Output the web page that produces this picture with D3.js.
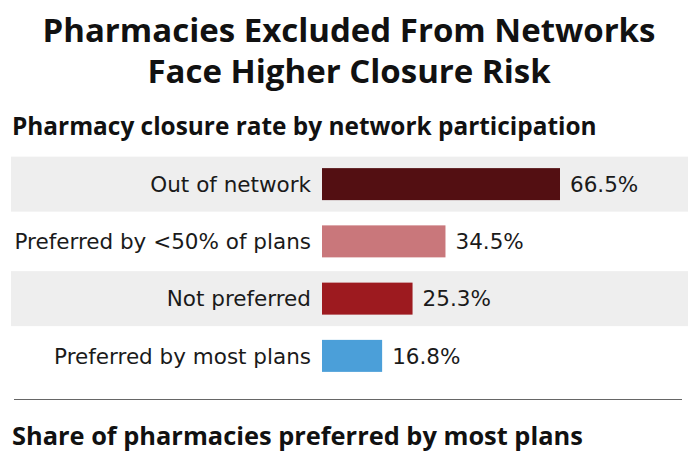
<!DOCTYPE html>
<html>
<head>
<meta charset="utf-8">
<script src="https://cdn.jsdelivr.net/npm/d3@7"></script>
<style>
  body { margin: 0; background: #fff; }
  svg { display: block; }
</style>
</head>
<body>
<svg id="chart" width="696" height="461"></svg>
<script>
// chart data
var categories = ["Out of network", "Preferred by <50% of plans", "Not preferred", "Preferred by most plans"];
var closureRates = [66.5, 34.5, 25.3, 16.8];
var barColors = ["#530f12", "#c9777b", "#9d1a1f", "#4b9fd9"];
var titleLines = ["Pharmacies Excluded From Networks", "Face Higher Closure Risk"];
var subtitle = "Pharmacy closure rate by network participation";
var nextSubtitle = "Share of pharmacies preferred by most plans";

var svg = d3.select("#chart");
var W = 696;
var labelFont = "'DejaVu Sans', sans-serif";

// two-line title
var title = svg.append("text")
    .attr("y", 41.5)
    .attr("text-anchor", "middle")
    .style("font-family", "'Open Sans', sans-serif")
    .style("font-weight", "bold")
    .style("font-size", "33px")
    .style("fill", "#111");

title.selectAll("tspan")
    .data(titleLines)
    .enter()
    .append("tspan")
    .attr("x", W / 2 + 1)
    .attr("dy", function(d, i) { return i === 0 ? 0 : 41.5; })
    .text(function(d) { return d; });

svg.append("text")
    .attr("x", 12)
    .attr("y", 135)
    .style("font-family", "'Open Sans', sans-serif")
    .style("font-weight", "bold")
    .style("font-size", "24.4px")
    .style("fill", "#111")
    .text(subtitle);

// scales
var y = d3.scaleBand()
    .domain(categories)
    .range([155.5, 384.5])
    .padding(0);

var x = d3.scaleLinear()
    .domain([0, 66.5])
    .range([322, 560]);

var rows = svg.selectAll("g.row")
    .data(categories)
    .enter()
    .append("g")
    .attr("class", "row");

// striped background on alternate rows
rows.filter(function(d, i) { return i % 2 === 0; })
    .append("rect")
    .attr("x", 11)
    .attr("width", 677)
    .attr("y", function(d) { return y(d) + y.bandwidth() / 2 - 27.5; })
    .attr("height", 55)
    .style("fill", "#eeeeee");

var barH = 32;

rows.append("rect")
    .attr("x", x(0))
    .attr("y", function(d) { return y(d) + y.bandwidth() / 2 - barH / 2; })
    .attr("height", barH)
    .attr("width", function(d, i) { return x(closureRates[i]) - x(0); })
    .style("fill", function(d, i) { return barColors[i]; });

rows.append("text")
    .attr("x", 311)
    .attr("y", function(d) { return y(d) + y.bandwidth() / 2; })
    .attr("dy", "0.36em")
    .attr("text-anchor", "end")
    .style("font-family", labelFont)
    .style("font-size", "21.5px")
    .style("fill", "#1a1a1a")
    .text(function(d) { return d; });

rows.append("text")
    .attr("x", function(d, i) { return x(closureRates[i]) + 10; })
    .attr("y", function(d) { return y(d) + y.bandwidth() / 2; })
    .attr("dy", "0.36em")
    .style("font-family", labelFont)
    .style("font-size", "21.5px")
    .style("fill", "#1a1a1a")
    .text(function(d, i) { return closureRates[i].toFixed(1) + "%"; });

// separator and next section heading
svg.append("line")
    .attr("x1", 14)
    .attr("x2", 682)
    .attr("y1", 399.5)
    .attr("y2", 399.5)
    .style("stroke", "#666")
    .style("stroke-width", 1);

svg.append("text")
    .attr("x", 12)
    .attr("y", 445)
    .style("font-family", "'Open Sans', sans-serif")
    .style("font-weight", "bold")
    .style("font-size", "25.4px")
    .style("fill", "#111")
    .text(nextSubtitle);
</script>
</body>
</html>
